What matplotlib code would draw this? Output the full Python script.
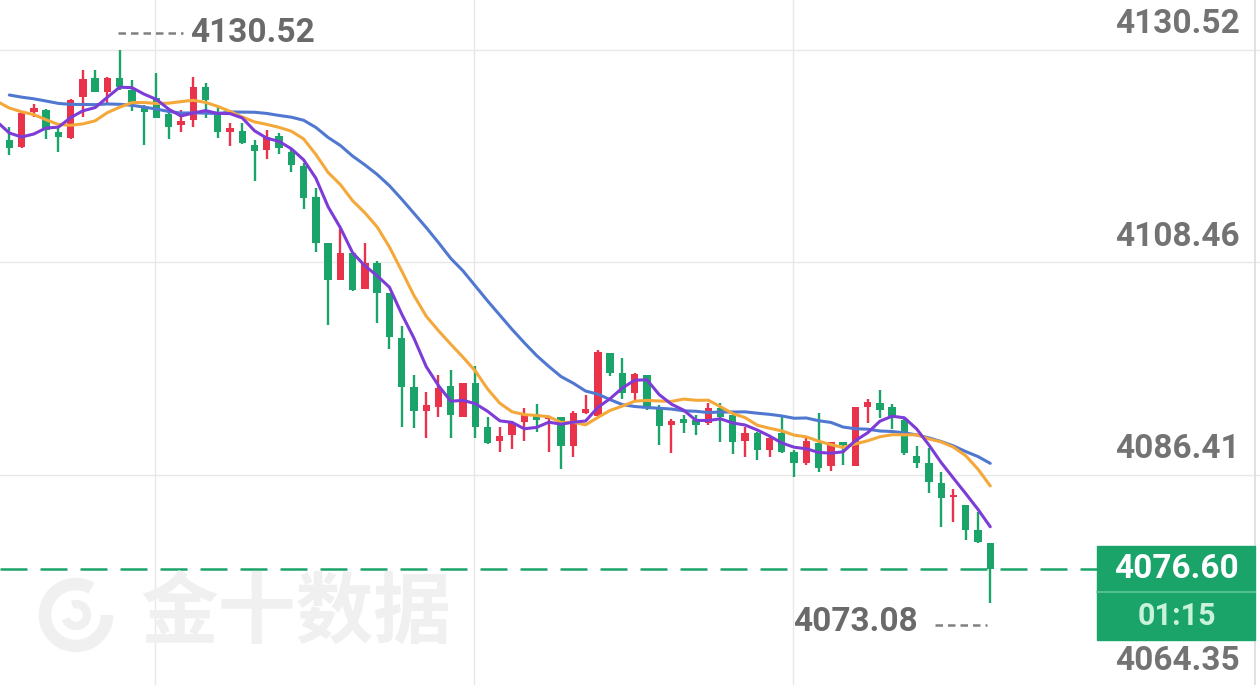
import numpy as np
import pandas as pd
import matplotlib.pyplot as plt
from matplotlib.patches import Rectangle, Arc

# candle data (one bar per index, oldest first)
opens = [4121.17, 4120.44, 4124.08, 4124.28, 4122.00, 4121.37, 4125.63, 4127.61, 4126.15, 4127.61,
         4126.36, 4124.59, 4125.53, 4123.87, 4122.72, 4123.24, 4126.67, 4123.76, 4122.00, 4122.10,
         4120.65, 4120.13, 4121.58, 4119.92, 4118.47, 4115.25, 4110.47, 4106.62, 4109.43, 4105.69,
         4108.39, 4105.27, 4100.60, 4095.51, 4093.02, 4093.43, 4095.61, 4092.39, 4095.92, 4091.35,
         4089.90, 4090.52, 4091.87, 4092.70, 4092.18, 4092.39, 4089.38, 4092.81, 4092.50, 4099.04,
         4096.96, 4094.89, 4096.75, 4093.43, 4091.56, 4092.18, 4092.08, 4091.77, 4093.33, 4092.60,
         4089.90, 4090.73, 4088.96, 4090.73, 4088.76, 4087.61, 4089.69, 4087.30, 4089.79, 4087.30,
         4093.43, 4093.85, 4093.43, 4092.08, 4088.34, 4087.61, 4085.54, 4084.08, 4083.25, 4080.65,
         4079.30]
highs = [4122.52, 4124.18, 4124.91, 4124.39, 4122.52, 4125.43, 4128.44, 4128.44, 4127.71, 4130.52,
         4127.40, 4124.80, 4128.13, 4123.97, 4124.28, 4127.71, 4127.09, 4124.59, 4122.93, 4122.93,
         4121.17, 4122.21, 4121.89, 4120.34, 4118.78, 4116.18, 4110.47, 4111.92, 4109.53, 4110.47,
         4108.60, 4105.27, 4101.85, 4096.75, 4094.99, 4096.75, 4097.27, 4095.92, 4097.69, 4092.39,
         4091.35, 4091.98, 4093.33, 4093.74, 4092.50, 4092.39, 4093.02, 4094.68, 4099.35, 4099.04,
         4098.52, 4096.96, 4096.75, 4093.64, 4092.18, 4092.60, 4092.60, 4093.85, 4093.85, 4092.60,
         4091.35, 4090.83, 4090.31, 4092.50, 4088.96, 4090.21, 4092.81, 4089.79, 4089.79, 4093.43,
         4094.26, 4095.20, 4093.74, 4092.29, 4089.38, 4089.17, 4086.68, 4084.91, 4083.25, 4082.52,
         4079.30]
lows = [4119.61, 4120.34, 4123.56, 4121.27, 4119.92, 4121.27, 4123.56, 4126.15, 4125.01, 4126.36,
        4124.18, 4120.65, 4123.45, 4121.27, 4122.00, 4122.52, 4123.45, 4121.37, 4120.54, 4120.75,
        4116.91, 4119.19, 4119.71, 4117.84, 4114.00, 4109.53, 4101.95, 4106.62, 4105.48, 4105.69,
        4102.16, 4099.46, 4091.35, 4091.25, 4090.21, 4092.39, 4090.21, 4092.39, 4090.21, 4089.59,
        4088.76, 4089.07, 4089.90, 4090.83, 4088.76, 4086.99, 4088.24, 4092.70, 4092.50, 4096.65,
        4094.26, 4094.16, 4093.12, 4089.48, 4088.65, 4090.73, 4090.52, 4091.56, 4089.79, 4088.55,
        4088.24, 4087.93, 4088.24, 4088.65, 4086.16, 4087.41, 4086.68, 4086.78, 4087.41, 4087.30,
        4091.77, 4092.29, 4091.14, 4088.44, 4087.09, 4084.50, 4080.97, 4081.48, 4079.61, 4079.30,
        4073.08]
closes = [4120.34, 4123.97, 4124.49, 4122.21, 4121.48, 4125.32, 4127.50, 4126.15, 4127.61, 4126.67,
          4125.11, 4124.08, 4123.45, 4122.52, 4123.14, 4126.67, 4125.32, 4122.00, 4122.41, 4120.86,
          4120.02, 4121.48, 4120.34, 4118.57, 4115.14, 4110.47, 4106.62, 4109.43, 4105.58, 4108.39,
          4105.27, 4100.70, 4095.51, 4093.02, 4093.64, 4095.40, 4092.60, 4095.92, 4091.35, 4089.69,
          4090.42, 4091.77, 4092.60, 4092.08, 4092.39, 4089.38, 4092.81, 4093.22, 4099.14, 4096.96,
          4094.89, 4096.86, 4093.43, 4091.46, 4091.98, 4091.77, 4091.56, 4093.33, 4092.39, 4089.79,
          4090.73, 4088.96, 4090.21, 4088.76, 4087.61, 4089.90, 4087.09, 4089.79, 4089.48, 4093.43,
          4093.95, 4093.12, 4092.39, 4088.65, 4087.61, 4085.64, 4083.98, 4084.29, 4080.65, 4079.41,
          4076.60]
# closes before the first visible bar (estimated from where the MA lines start)
prior_closes = [4128.44, 4127.92, 4126.88, 4126.36, 4127.40, 4127.61, 4126.57, 4126.15, 4127.40, 4127.19,
                4127.92, 4127.40, 4127.61, 4126.36, 4126.15, 4126.05, 4122.93, 4119.09, 4121.06]

y_ticks = [4130.52, 4108.46, 4086.41, 4064.35]
last_price = 4076.60
countdown = '01:15'
hi_label = 4130.52
lo_label = 4073.08

red = '#e8334a'
green = '#1ba46a'
grid_c = '#e8e8e8'
label_c = '#737373'

fig = plt.figure(figsize=(12.6, 6.85), dpi=100)
ax = fig.add_axes([0, 0, 1, 1])
ax.set_xlim(-0.76, 102.0)
ax.set_ylim(4064.55, 4135.71)
ax.axis('off')

# grid
for t in y_ticks:
    ax.axhline(t, color=grid_c, lw=1, zorder=0)
for gx in [12, 38, 64]:
    ax.axvline(gx - 0.11, color=grid_c, lw=1, zorder=0)
ax.axvline(101.6, color='#dcdcdc', lw=1.2, zorder=0)

# candles
x = np.arange(len(closes))
o = np.array(opens); c = np.array(closes)
cols = np.where(c >= o, red, green)
ax.vlines(x, lows, highs, colors=cols, lw=1.7, zorder=2)
body = np.maximum(np.abs(c - o), 0.18)
ax.bar(x, body, bottom=np.minimum(o, c), width=0.6, color=cols, zorder=3)

# moving averages
s = pd.Series(prior_closes + closes)
xs = np.arange(-len(prior_closes), len(closes))
for n, col in [(20, '#5078d0'), (10, '#f5a83a'), (5, '#7d3cd8')]:
    ma = s.rolling(n).mean()
    ax.plot(xs, ma, color=col, lw=2.2, zorder=4, solid_capstyle='round')

# last price dashed line
ax.plot([-0.76, 88.7], [last_price, last_price], color=green, lw=1.8,
        dashes=(10.8, 5.2), zorder=5)

# right price labels
ytr = ax.get_yaxis_transform()
for t in y_ticks:
    ax.text(0.984, t + 2.65, f'{t:.2f}', transform=ytr, ha='right', va='center',
            fontsize=24, color=label_c, family='Roboto', fontweight='bold')

# price box
ax.add_patch(Rectangle((0.8706, 4069.23), 0.1254, 9.76, transform=ytr,
                       color=green, zorder=6, clip_on=False))
ax.plot([0.8706, 0.996], [4074.21, 4074.21], transform=ytr, color='#5cc896', lw=1.2, zorder=7)
ax.text(0.934, last_price, f'{last_price:.2f}', transform=ytr, ha='center', va='center',
        fontsize=24, color='white', family='Roboto', fontweight='bold', zorder=8)
ax.text(0.934, 4071.72, countdown, transform=ytr, ha='center', va='center',
        fontsize=22, color='#c9f2dc', family='Roboto', fontweight='bold', zorder=8)

# high / low markers
ax.plot([8.9, 14.2], [4132.3, 4132.3], color='#808080', lw=1.8, dashes=(3.0, 2.0))
ax.text(14.74, 4132.3, f'{hi_label:.2f}', ha='left', va='center', fontsize=24,
        color='#6a6a6a', family='Roboto', fontweight='bold')
ax.text(74.1, 4071.1, f'{lo_label:.2f}', ha='right', va='center', fontsize=24,
        color='#6a6a6a', family='Roboto', fontweight='bold')
ax.plot([75.5, 79.7], [4070.8, 4070.8], color='#808080', lw=1.8, dashes=(3.0, 2.0))

# watermark
fig.text(140 / 1260, 1 - 615 / 685, '金十数据', ha='left', va='center', fontsize=56,
         color='#f0f0f0', family='Noto Sans CJK SC', fontweight='bold', zorder=1)
fig.add_artist(Arc((0.76, 0.70), 0.62, 0.62, theta1=60, theta2=360, lw=9,
                   color='#f0f0f0', transform=fig.dpi_scale_trans))
fig.add_artist(Arc((0.76, 0.70), 0.22, 0.22, theta1=200, theta2=470, lw=6,
                   color='#f0f0f0', transform=fig.dpi_scale_trans))

fig.savefig('out.png', dpi=100, facecolor='white')
